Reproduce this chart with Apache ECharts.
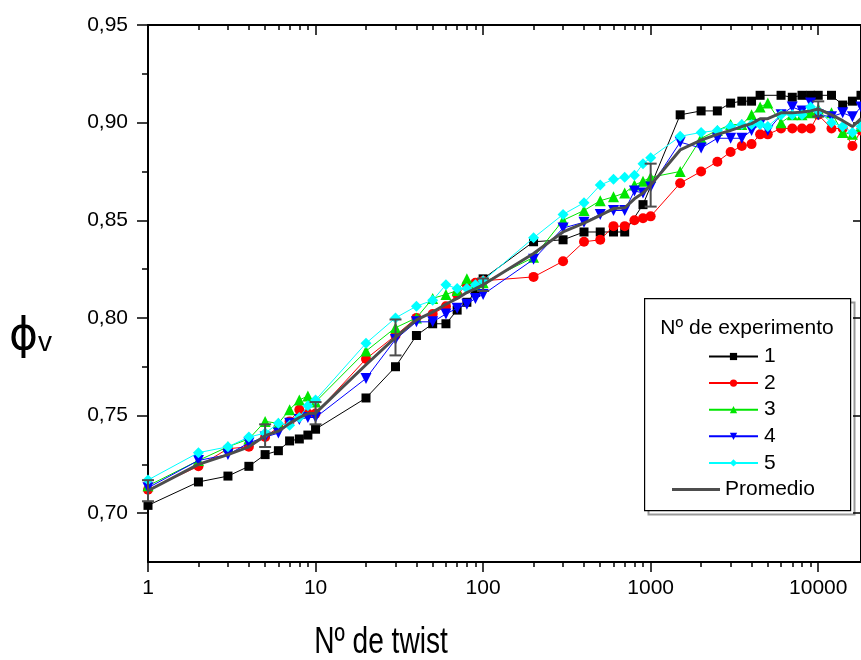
<!DOCTYPE html>
<html>
<head>
<meta charset="utf-8">
<script src="https://cdn.jsdelivr.net/npm/echarts@6/dist/echarts.min.js"></script>
<style>
html,body{margin:0;padding:0;background:#fff;}
#chart{width:861px;height:660px;}
</style>
</head>
<body>
<div id="chart"></div>
<script>
// ---- data ----
const twist = [1,2,3,4,5,6,7,8,9,10,20,30,40,50,60,70,80,90,100,200,300,400,500,600,700,800,900,1000,1500,2000,2500,3000,3500,4000,4500,5000,6000,7000,8000,9000,10000,12000,14000,16000,18000];
const exp1 = [0.704,0.716,0.719,0.724,0.730,0.732,0.737,0.738,0.740,0.743,0.759,0.775,0.791,0.797,0.797,0.804,0.808,0.813,0.820,0.839,0.840,0.844,0.844,0.844,0.844,null,0.858,null,0.904,0.906,0.906,0.910,0.911,0.911,0.914,null,0.914,0.913,0.914,0.914,0.914,0.914,0.909,0.911,0.914];
const exp2 = [0.712,0.724,0.733,0.734,0.739,0.744,0.747,0.753,0.751,0.751,0.779,0.791,0.800,0.802,0.806,0.812,0.817,0.818,0.819,0.821,0.829,0.839,0.840,0.847,0.847,0.850,0.851,0.852,0.869,0.875,0.880,0.885,0.888,0.889,0.894,0.894,0.897,0.897,0.897,0.897,0.904,0.897,0.897,0.888,0.896];
const exp3 = [0.714,0.727,0.734,0.738,0.747,0.746,0.753,0.758,0.760,0.757,0.783,0.795,0.800,0.810,0.812,0.814,0.820,0.817,0.818,0.831,0.850,0.855,0.860,0.862,0.864,0.868,0.870,0.872,0.875,0.892,0.896,0.899,0.899,0.904,0.908,0.910,0.900,0.904,0.904,0.905,0.907,0.905,0.895,0.894,0.898];
const exp4 = [0.713,0.727,0.730,0.736,0.739,0.741,0.746,0.748,0.749,0.749,0.769,0.789,0.798,0.798,0.802,0.805,0.807,0.810,0.812,0.830,0.846,0.849,0.853,0.855,0.855,0.865,0.864,0.867,0.890,0.887,0.892,0.892,0.892,0.896,0.899,0.896,0.904,0.908,0.906,0.910,0.904,0.903,0.905,0.903,0.908];
const exp5 = [0.717,0.731,0.734,0.739,0.741,0.746,0.745,0.749,0.755,0.758,0.787,0.800,0.806,0.809,0.817,0.815,0.815,0.817,0.819,0.841,0.853,0.859,0.868,0.871,0.872,0.873,0.879,0.882,0.893,0.895,0.896,0.898,0.899,0.899,0.899,0.898,0.904,0.904,0.904,0.908,0.906,0.900,0.898,0.895,0.898];
const promedio = [0.7115,0.725,0.730,0.734,0.7397,0.742,0.746,0.749,0.751,0.7512,0.776,0.790,0.799,0.803,0.807,0.810,0.813,0.815,0.817,0.833,0.844,0.8485,0.8525,0.856,0.8564,0.861,0.864,0.868,0.886,0.891,0.894,0.896,0.898,0.8995,0.902,0.902,0.905,0.905,0.9055,0.906,0.907,0.904,0.901,0.898,0.902];
const errTwist = [1,5,10,30,100,1000,10000];
const errHalf = [0.0054,0.0058,0.0057,0.0092,0.0032,0.011,0.0039];
const yTickLabels = [0.70,0.75,0.80,0.85,0.90,0.95];
const yMinorTicks = [0.725,0.775,0.825,0.875,0.925];
const xMajorTicks = [1,10,100,1000,10000];
const xMinorTicks = [2,3,4,5,6,7,8,9,20,30,40,50,60,70,80,90,200,300,400,500,600,700,800,900,2000,3000,4000,5000,6000,7000,8000,9000];
const seriesNames = ['1','2','3','4','5'];

// ---- build ----
function pairs(ys){ const out=[]; ys.forEach((v,i)=>{ if(v!==null) out.push([twist[i], v]); }); return out; }
const expData = [exp1,exp2,exp3,exp4,exp5];
const colors = ['#000000','#ff0000','#00e600','#0000ff','#00ffff'];
const symbols = ['rect','circle','triangle','triangle','diamond'];
const rotates = [0,0,0,180,0];
const sizes = [9,10,11,11,11];
const FONT = 'Liberation Sans, Arial, sans-serif';

const errData = errTwist.map((x,i)=>[x, promedio[twist.indexOf(x)], errHalf[i]]);

const chart = echarts.init(document.getElementById('chart'), null, {renderer:'canvas'});

const series = expData.map((ys,k)=>({
  name: seriesNames[k], type:'line', data: pairs(ys), xAxisIndex:0, yAxisIndex:0,
  symbol: symbols[k], symbolRotate: rotates[k], symbolSize: sizes[k],
  showAllSymbol:true, connectNulls:true, clip:false,
  lineStyle:{color:colors[k], width:1}, itemStyle:{color:colors[k]},
  animation:false, z: 2+k
}));
series.push({
  name:'Promedio', type:'line', data: pairs(promedio), xAxisIndex:0, yAxisIndex:0,
  symbol:'none', lineStyle:{color:'#4d4d4d', width:3}, itemStyle:{color:'#4d4d4d'},
  clip:false, animation:false, z:10
});
series.push({
  name:'err', type:'custom', xAxisIndex:0, yAxisIndex:0, data: errData, z:11, animation:false,
  encode:{x:0,y:1},
  renderItem(params, api){
    const x=api.value(0), c=api.value(1), e=api.value(2);
    const t=api.coord([x,c+e]), b=api.coord([x,c-e]);
    const w=6, st={stroke:'#4d4d4d', lineWidth:2};
    return {type:'group', children:[
      {type:'line', shape:{x1:t[0],y1:t[1],x2:b[0],y2:b[1]}, style:st},
      {type:'line', shape:{x1:t[0]-w,y1:t[1],x2:t[0]+w,y2:t[1]}, style:st},
      {type:'line', shape:{x1:b[0]-w,y1:b[1],x2:b[0]+w,y2:b[1]}, style:st}
    ]};
  }
});

const xBase = {type:'log', logBase:10, min:1, max:18000, gridIndex:0, splitLine:{show:false}};
const yBase = {type:'value', min:0.675, max:0.95, gridIndex:0, splitLine:{show:false}};

const option = {
  backgroundColor:'#fff',
  animation:false,
  grid:{left:148, right:-2, top:25, bottom:98},
  xAxis:[
    Object.assign({}, xBase, {position:'bottom',
      axisLine:{lineStyle:{color:'#000', width:2}},
      axisTick:{inside:false, length:10, lineStyle:{color:'#000', width:1.5}, customValues:xMajorTicks},
      axisLabel:{customValues:xMajorTicks, color:'#000', fontSize:21, fontFamily:FONT, margin:16, formatter:v=>String(Math.round(v))}}),
    Object.assign({}, xBase, {position:'bottom',
      axisLine:{show:false},
      axisTick:{inside:false, length:5, lineStyle:{color:'#000', width:1.5}, customValues:xMinorTicks},
      axisLabel:{show:false}}),
    Object.assign({}, xBase, {position:'top',
      axisLine:{lineStyle:{color:'#000', width:2}},
      axisTick:{inside:true, length:10, lineStyle:{color:'#000', width:1.5}, customValues:xMajorTicks},
      axisLabel:{show:false}}),
    Object.assign({}, xBase, {position:'top',
      axisLine:{show:false},
      axisTick:{inside:true, length:5, lineStyle:{color:'#000', width:1.5}, customValues:xMinorTicks},
      axisLabel:{show:false}})
  ],
  yAxis:[
    Object.assign({}, yBase, {position:'left',
      axisLine:{show:true, lineStyle:{color:'#000', width:2}},
      axisTick:{show:true, inside:false, length:11, lineStyle:{color:'#000', width:1.5}, customValues:yTickLabels},
      axisLabel:{customValues:yTickLabels, color:'#000', fontSize:21, fontFamily:FONT, margin:20,
        formatter:v=>v.toFixed(2).replace('.',',')}}),
    Object.assign({}, yBase, {position:'left',
      axisLine:{show:false},
      axisTick:{show:true, inside:false, length:6, lineStyle:{color:'#000', width:1.5}, customValues:yMinorTicks},
      axisLabel:{show:false}}),
    Object.assign({}, yBase, {position:'right',
      axisLine:{show:true, lineStyle:{color:'#000', width:2}},
      axisTick:{show:true, inside:true, length:8, lineStyle:{color:'#000', width:1.5}, customValues:yTickLabels},
      axisLabel:{show:false}})
  ],
  legend:[
    {data:seriesNames, orient:'vertical', left:708, top:346, padding:0, itemWidth:49, itemHeight:9, itemGap:5.6,
     textStyle:{color:'#000', fontSize:21, fontFamily:FONT, padding:[0,0,0,1]}, selectedMode:false},
    {data:[{name:'Promedio', icon:'rect'}], orient:'vertical', left:672, top:479, padding:0, itemWidth:48, itemHeight:3,
     textStyle:{color:'#000', fontSize:21, fontFamily:FONT}, selectedMode:false}
  ],
  graphic:[
    {type:'rect', left:646, top:300, shape:{x:0,y:0,width:206,height:212}, style:{fill:'none', stroke:'#999', lineWidth:2}, z:0},
    {type:'rect', left:644, top:298, shape:{x:0,y:0,width:206,height:212}, style:{fill:'#fff', stroke:'#000', lineWidth:1.2}, z:1},
    {type:'text', x:747, y:328, style:{text:'Nº de experimento', font:'21px '+FONT, fill:'#000', textAlign:'center', textVerticalAlign:'middle'}, z:20},
    {type:'text', x:381, y:643, scaleX:0.76, scaleY:1, style:{text:'Nº de twist', font:'37px '+FONT, fill:'#000', textAlign:'center', textVerticalAlign:'middle'}, z:20},
    {type:'text', x:9, y:338, style:{rich:{a:{fontSize:44, fontFamily:'DejaVu Sans', fill:'#000'}, b:{fontSize:28, fontFamily:FONT, fill:'#000', padding:[10,0,0,0]}}, text:'{a|\u03D5}{b|v}', textVerticalAlign:'middle'}, z:20}
  ],
  series: series
};
chart.setOption(option);
</script>
</body>
</html>
